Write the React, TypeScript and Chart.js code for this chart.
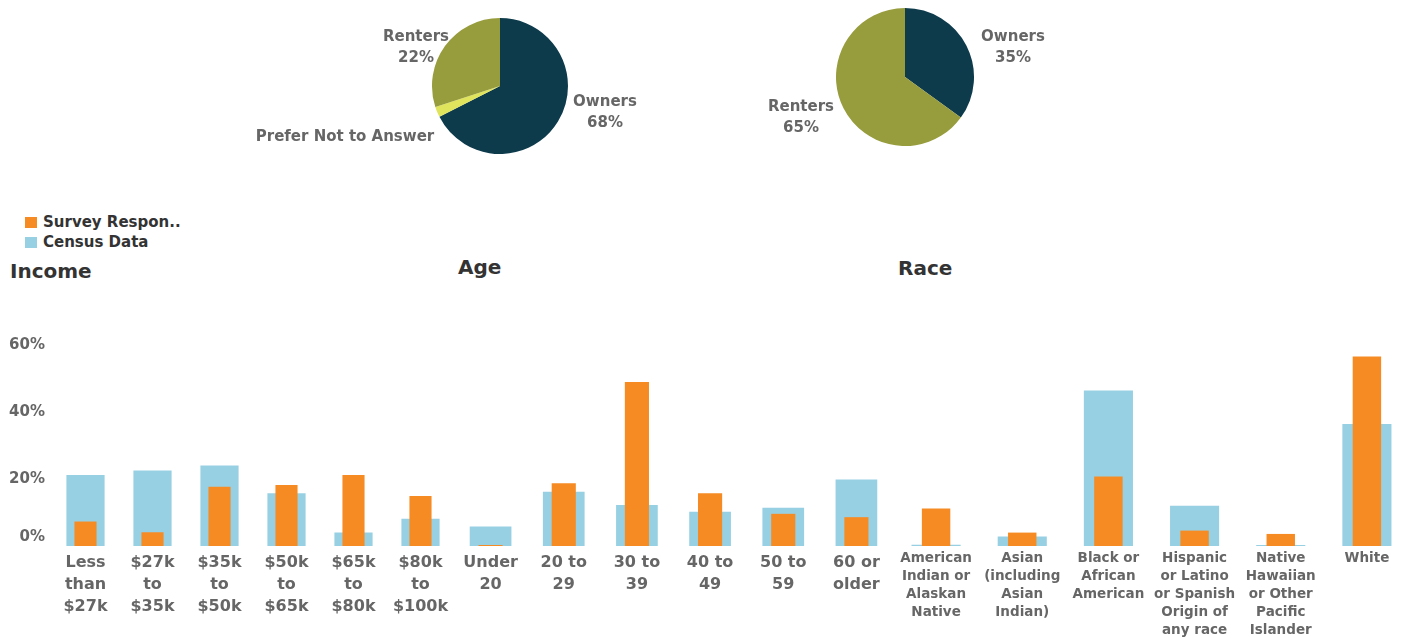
import React, { useEffect, useRef } from "react";
import { Chart, registerables } from "chart.js";

Chart.register(...registerables);

// ---------- DATA ----------
const tenureLabelsA = ["Owners", "Prefer Not to Answer", "Renters"];
const tenureValuesA = [67.5, 2.5, 30];
const tenureTextA = ["68%", "", "22%"];

const tenureLabelsB = ["Owners", "Renters"];
const tenureValuesB = [35, 65];
const tenureTextB = ["35%", "65%"];

const seriesNames = ["Survey Respon..", "Census Data"];

const incomeCategories = [
  ["Less", "than", "$27k"],
  ["$27k", "to", "$35k"],
  ["$35k", "to", "$50k"],
  ["$50k", "to", "$65k"],
  ["$65k", "to", "$80k"],
  ["$80k", "to", "$100k"],
];
const incomeSurvey = [7.3, 4.1, 17.7, 18.2, 21.2, 14.9];
const incomeCensus = [21.2, 22.5, 24.0, 15.7, 4.0, 8.1];

const ageCategories = [
  ["Under", "20"],
  ["20 to", "29"],
  ["30 to", "39"],
  ["40 to", "49"],
  ["50 to", "59"],
  ["60 or", "older"],
];
const ageSurvey = [0.3, 18.7, 48.9, 15.7, 9.6, 8.6];
const ageCensus = [5.8, 16.2, 12.2, 10.2, 11.4, 19.8];

const raceCategories = [
  ["American", "Indian or", "Alaskan", "Native"],
  ["Asian", "(including", "Asian", "Indian)"],
  ["Black or", "African", "American"],
  ["Hispanic", "or Latino", "or Spanish", "Origin of", "any race"],
  ["Native", "Hawaiian", "or Other", "Pacific", "Islander"],
  ["White"],
];
const raceSurvey = [11.2, 4.0, 20.7, 4.6, 3.6, 56.5];
const raceCensus = [0.4, 2.8, 46.4, 12.0, 0.3, 36.4];

const yTickStep = 20;
const yMax = 68;

// ---------- STYLE ----------
const FONT = "'DejaVu Sans', sans-serif";
const NAVY = "#0d3b4c";
const OLIVE = "#979c3d";
const YELLOW = "#e0e35c";
const ORANGE = "#f68b24";
const BLUE = "#98d0e3";
const GRAY = "#666666";
const DARK = "#333333";

// lifts the bottom (0%) y label a little, as in the reference
const liftZeroLabel = {
  id: "liftZeroLabel",
  beforeDraw(chart: any) {
    const y = chart.scales && chart.scales.y;
    if (!y || !y.options.display || !y.getLabelItems) return;
    const items = y.getLabelItems();
    if (items && items.length && !items._lifted) {
      const first = items[0];
      if (first && first.options && first.options.translation) {
        first.options.translation[1] -= 9;
      }
      items._lifted = true;
    }
  },
};

function PieChart(props: {
  labels: string[];
  values: number[];
  colors: string[];
  left: number;
  top: number;
  size: number;
  pad: number;
}) {
  const ref = useRef<HTMLCanvasElement>(null);
  useEffect(() => {
    if (!ref.current) return;
    const chart = new Chart(ref.current, {
      type: "pie",
      data: {
        labels: props.labels,
        datasets: [
          {
            data: props.values,
            backgroundColor: props.colors,
            borderWidth: 0,
          },
        ],
      },
      options: {
        animation: false,
        responsive: false,
        layout: { padding: props.pad },
        plugins: { legend: { display: false }, tooltip: { enabled: false } },
      },
    });
    return () => chart.destroy();
  }, []);
  return (
    <canvas
      ref={ref}
      width={props.size}
      height={props.size}
      style={{ position: "absolute", left: props.left, top: props.top, width: props.size, height: props.size }}
    />
  );
}

function BarPanel(props: {
  categories: string[][];
  survey: number[];
  census: number[];
  showY: boolean;
  left: number;
  width: number;
  fontSize: number;
  lineHeight: number;
  padding: number;
}) {
  const ref = useRef<HTMLCanvasElement>(null);
  useEffect(() => {
    if (!ref.current) return;
    const chart = new Chart(ref.current, {
      type: "bar",
      data: {
        labels: props.categories,
        datasets: [
          {
            label: seriesNames[0],
            data: props.survey,
            backgroundColor: ORANGE,
            barPercentage: 0.33,
            categoryPercentage: 1,
            grouped: false,
          },
          {
            label: seriesNames[1],
            data: props.census,
            backgroundColor: BLUE,
            barPercentage: 0.57,
            categoryPercentage: 1,
            grouped: false,
          },
        ],
      },
      plugins: [liftZeroLabel],
      options: {
        animation: false,
        responsive: false,
        maintainAspectRatio: false,
        layout: { padding: 0 },
        plugins: { legend: { display: false }, tooltip: { enabled: false } },
        scales: {
          x: {
            grid: { display: false, drawTicks: false },
            border: { display: false },
            ticks: {
              autoSkip: false,
              maxRotation: 0,
              minRotation: 0,
              padding: props.padding,
              color: GRAY,
              font: { family: FONT, size: props.fontSize, weight: "bold", lineHeight: props.lineHeight },
            },
            afterFit: (s: any) => {
              s.height = 92;
              s.paddingLeft = 0;
              s.paddingRight = 0;
            },
          },
          y: {
            display: props.showY,
            min: 0,
            max: yMax,
            grid: { display: false, drawTicks: false },
            border: { display: false },
            ticks: {
              stepSize: yTickStep,
              padding: 7,
              color: GRAY,
              font: { family: FONT, size: 15, weight: "bold" },
              callback: (v: any) => (Number(v) % yTickStep === 0 ? v + "%" : ""),
            },
            afterFit: (s: any) => {
              s.width = props.showY ? 52 : 0;
              s.paddingTop = 0;
              s.paddingBottom = 0;
            },
          },
        },
      },
    });
    return () => chart.destroy();
  }, []);
  return (
    <canvas
      ref={ref}
      width={props.width}
      height={320}
      style={{ position: "absolute", left: props.left, top: 318, width: props.width, height: 320 }}
    />
  );
}

function Label(props: { cx: number; top: number; lines: string[]; size?: number; color?: string }) {
  return (
    <div
      style={{
        position: "absolute",
        left: props.cx - 120,
        width: 240,
        top: props.top,
        textAlign: "center",
        fontFamily: FONT,
        fontWeight: "bold",
        fontSize: props.size || 15,
        lineHeight: "21px",
        color: props.color || GRAY,
        whiteSpace: "nowrap",
      }}
    >
      {props.lines.map((l, i) => (
        <div key={i}>{l}</div>
      ))}
    </div>
  );
}

function Title(props: { left: number; top: number; text: string }) {
  return (
    <div
      style={{
        position: "absolute",
        left: props.left,
        top: props.top,
        fontFamily: FONT,
        fontWeight: "bold",
        fontSize: 20,
        lineHeight: "24px",
        color: DARK,
        whiteSpace: "nowrap",
      }}
    >
      {props.text}
    </div>
  );
}

export default function App() {
  return (
    <div
      style={{
        position: "absolute",
        left: 0,
        top: 0,
        width: 1403,
        height: 638,
        overflow: "hidden",
        background: "#ffffff",
      }}
    >
      <PieChart
        labels={tenureLabelsA}
        values={tenureValuesA}
        colors={[NAVY, YELLOW, OLIVE]}
        left={430}
        top={16}
        size={140}
        pad={2}
      />
      <PieChart
        labels={tenureLabelsB}
        values={tenureValuesB}
        colors={[NAVY, OLIVE]}
        left={835}
        top={7}
        size={140}
        pad={1}
      />
      <Label cx={416} top={26} lines={[tenureLabelsA[2], tenureTextA[2]]} />
      <Label cx={345} top={126} lines={[tenureLabelsA[1]]} />
      <Label cx={605} top={91} lines={[tenureLabelsA[0], tenureTextA[0]]} />
      <Label cx={1013} top={26} lines={[tenureLabelsB[0], tenureTextB[0]]} />
      <Label cx={801} top={96} lines={[tenureLabelsB[1], tenureTextB[1]]} />

      {/* legend */}
      <div style={{ position: "absolute", left: 25, top: 217, width: 12, height: 11, background: ORANGE }} />
      <div style={{ position: "absolute", left: 25, top: 237, width: 12, height: 11, background: BLUE }} />
      <div
        style={{
          position: "absolute",
          left: 43,
          top: 212,
          fontFamily: FONT,
          fontWeight: "bold",
          fontSize: 15,
          lineHeight: "20px",
          color: DARK,
          whiteSpace: "nowrap",
        }}
      >
        <div>{seriesNames[0]}</div>
        <div>{seriesNames[1]}</div>
      </div>

      <Title left={10} top={259} text="Income" />
      <Title left={458} top={255} text="Age" />
      <Title left={898} top={256} text="Race" />

      <BarPanel
        categories={incomeCategories}
        survey={incomeSurvey}
        census={incomeCensus}
        showY={true}
        left={0}
        width={454}
        fontSize={16}
        lineHeight={1.375}
        padding={6}
      />
      <BarPanel
        categories={ageCategories}
        survey={ageSurvey}
        census={ageCensus}
        showY={false}
        left={454}
        width={439}
        fontSize={16}
        lineHeight={1.375}
        padding={6}
      />
      <BarPanel
        categories={raceCategories}
        survey={raceSurvey}
        census={raceCensus}
        showY={false}
        left={893}
        width={517}
        fontSize={13.5}
        lineHeight={1.333}
        padding={4}
      />
    </div>
  );
}
